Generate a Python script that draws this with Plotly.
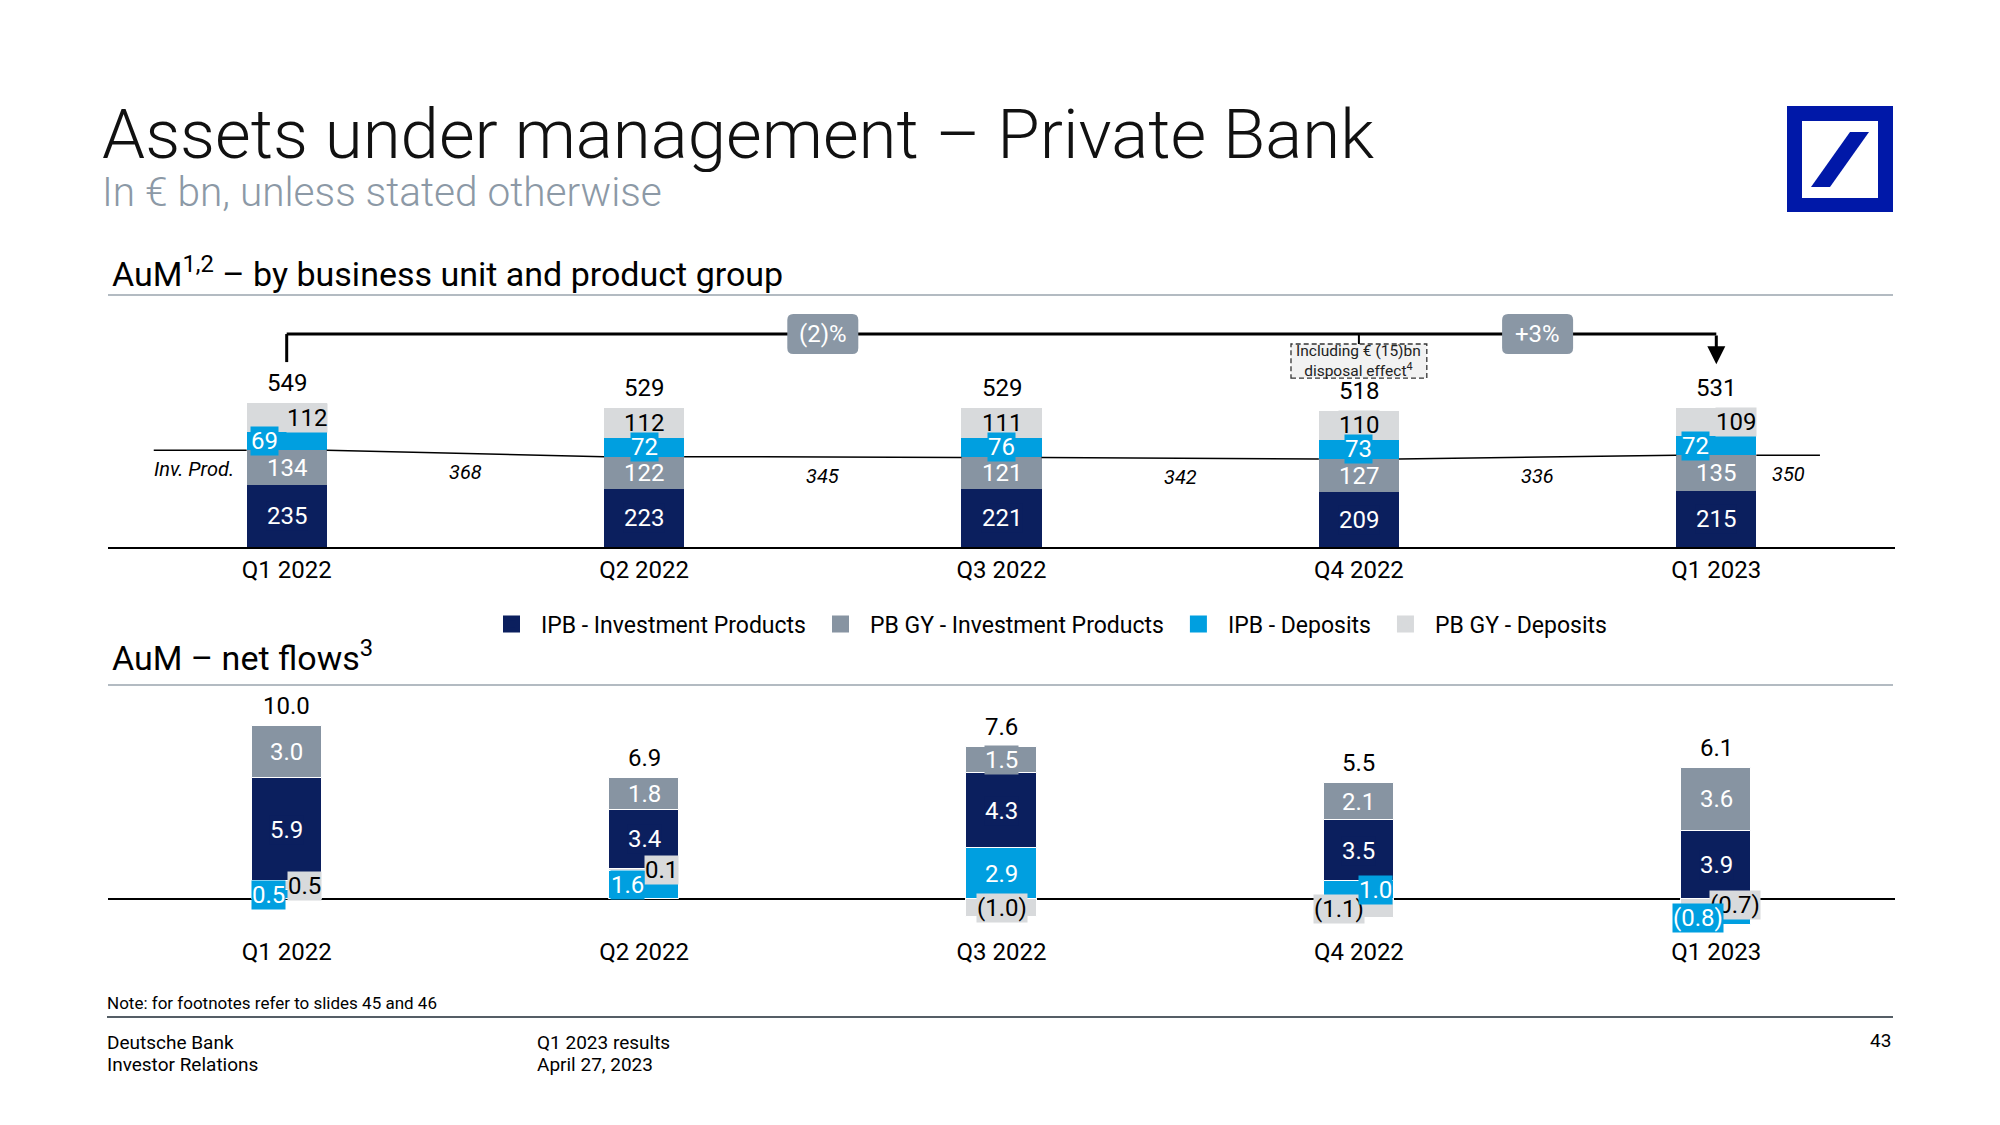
import plotly.graph_objects as go

# ---------------- data ----------------
QUARTERS = ["Q1 2022", "Q2 2022", "Q3 2022", "Q4 2022", "Q1 2023"]
SERIES = ["IPB - Investment Products", "PB GY - Investment Products",
          "IPB - Deposits", "PB GY - Deposits"]

# AuM by business unit and product group (EUR bn)
AUM_IPB_INV = [235, 223, 221, 209, 215]
AUM_PBGY_INV = [134, 122, 121, 127, 135]
AUM_IPB_DEP = [69, 72, 76, 73, 72]
AUM_PBGY_DEP = [112, 112, 111, 110, 109]
AUM_TOTAL = [549, 529, 529, 518, 531]
INV_PROD = [368, 345, 342, 336, 350]
AUM_CHANGE = ["(2)%", "+3%"]

# AuM net flows (EUR bn)
NF_IPB_INV = [5.9, 3.4, 4.3, 3.5, 3.9]
NF_PBGY_INV = [3.0, 1.8, 1.5, 2.1, 3.6]
NF_IPB_DEP = [0.5, 1.6, 2.9, 1.0, -0.8]
NF_PBGY_DEP = [0.5, 0.1, -1.0, -1.1, -0.7]
NF_TOTAL = [10.0, 6.9, 7.6, 5.5, 6.1]

# ---------------- style ----------------
FONT = "Roboto"
NAVY = "#0b1f5e"
GRAY = "#8794a2"
BLUE = "#009fe0"
LIGHT = "#d8dadc"
LOGO = "#0018a8"
BADGE = "#8a97a5"
COLORS = dict(zip(SERIES, [NAVY, GRAY, BLUE, LIGHT]))
TXT = dict(zip(SERIES, ["white", "white", "white", "black"]))

W, H = 2000, 1125
X_DOM = [108 / W, 1895 / W]
X_RANGE = [-0.5, 4.5]
TOP_DOM = [1 - 547 / H, 1 - 300 / H]
TOP_RANGE = [0, 943]
BOT_DOM = [1 - 935 / H, 1 - 690 / H]
BOT_RANGE = [-2.057, 11.94]
TOP_BAR_W = 0.224
BOT_BAR_W = 0.196

TOP_SHIFT = {("IPB - Deposits", 0): -22, ("PB GY - Deposits", 0): 20,
             ("IPB - Deposits", 4): -21, ("PB GY - Deposits", 4): 20}
BOT_SHIFT = {("IPB - Deposits", 0): -18, ("PB GY - Deposits", 0): 18,
             ("IPB - Deposits", 1): -17, ("PB GY - Deposits", 1): 17,
             ("IPB - Deposits", 3): 17, ("PB GY - Deposits", 3): -20,
             ("IPB - Deposits", 4): -18, ("PB GY - Deposits", 4): 19}

X = list(range(len(QUARTERS)))


def fmt(v, dec):
    s = f"{abs(v):.{dec}f}"
    return f"({s})" if v < 0 else s


def stacked_bases(vals, pos_order, neg_order):
    n = len(QUARTERS)
    bases = {k: [0] * n for k in vals}
    tops = [0] * n
    for i in range(n):
        p, q = 0, 0
        for k in pos_order:
            v = vals[k][i]
            if v >= 0:
                bases[k][i] = p
                p += v
        for k in neg_order:
            v = vals[k][i]
            if v < 0:
                bases[k][i] = q
                q += v
        tops[i] = p
    return bases, tops


top_vals = dict(zip(SERIES, [AUM_IPB_INV, AUM_PBGY_INV, AUM_IPB_DEP, AUM_PBGY_DEP]))
bot_vals = dict(zip(SERIES, [NF_IPB_INV, NF_PBGY_INV, NF_IPB_DEP, NF_PBGY_DEP]))
top_bases, top_tops = stacked_bases(top_vals, SERIES, SERIES)
bot_bases, bot_tops = stacked_bases(
    bot_vals, ["IPB - Deposits", "PB GY - Deposits", "IPB - Investment Products",
               "PB GY - Investment Products"],
    ["PB GY - Deposits", "IPB - Deposits"])

fig = go.Figure()
for s in SERIES:
    fig.add_trace(go.Bar(
        x=X, y=top_vals[s], base=top_bases[s], width=TOP_BAR_W, name=s,
        marker=dict(color=COLORS[s], line=dict(width=0)),
        legendgroup=s, showlegend=False, hoverinfo="skip",
        xaxis="x", yaxis="y"))
for s in SERIES:
    fig.add_trace(go.Bar(
        x=X, y=bot_vals[s], base=bot_bases[s], width=BOT_BAR_W, name=s,
        marker=dict(color=COLORS[s], line=dict(width=1, color="white")),
        legendgroup=s, showlegend=False, hoverinfo="skip",
        xaxis="x2", yaxis="y2"))
# legend entries (larger swatches)
for s in SERIES:
    fig.add_trace(go.Bar(
        x=[None], y=[None], name=s,
        marker=dict(color=COLORS[s], line=dict(width=10, color=COLORS[s])),
        legendgroup=s, showlegend=True, hoverinfo="skip",
        xaxis="x", yaxis="y"))

# Investment products line (top of the investment-product stack)
inv_level = [a + b for a, b in zip(AUM_IPB_INV, AUM_PBGY_INV)]
lx, ly = [-0.372, -TOP_BAR_W / 2, None], [inv_level[0], inv_level[0], None]
for i in range(len(X) - 1):
    lx += [i + TOP_BAR_W / 2, i + 1 - TOP_BAR_W / 2, None]
    ly += [inv_level[i], inv_level[i + 1], None]
right_end = len(X) - 1 + 0.29
lx += [len(X) - 1 + TOP_BAR_W / 2, right_end]
ly += [inv_level[-1], inv_level[-1]]
fig.add_trace(go.Scatter(x=lx, y=ly, mode="lines", line=dict(color="black", width=1.5),
                         showlegend=False, hoverinfo="skip", xaxis="x", yaxis="y"))

ann = []
# segment labels
order = ["IPB - Investment Products", "PB GY - Investment Products",
         "PB GY - Deposits", "IPB - Deposits"]
for s in order:
    for i in X:
        v = top_vals[s][i]
        ann.append(dict(x=i, y=top_bases[s][i] + v / 2, xref="x", yref="y",
                        text=fmt(v, 0), showarrow=False,
                        font=dict(size=24, color=TXT[s]), bgcolor=COLORS[s],
                        borderpad=0, xshift=TOP_SHIFT.get((s, i), 0)))
for s in order:
    for i in X:
        v = bot_vals[s][i]
        ann.append(dict(x=i, y=bot_bases[s][i] + v / 2, xref="x2", yref="y2",
                        text=fmt(v, 1), showarrow=False,
                        font=dict(size=24, color=TXT[s]), bgcolor=COLORS[s],
                        borderpad=0, xshift=BOT_SHIFT.get((s, i), 0)))
# totals
for i in X:
    ann.append(dict(x=i, y=top_tops[i], xref="x", yref="y", text=fmt(AUM_TOTAL[i], 0),
                    showarrow=False, yanchor="bottom", yshift=4,
                    font=dict(size=24, color="black")))
    ann.append(dict(x=i, y=bot_tops[i], xref="x2", yref="y2", text=fmt(NF_TOTAL[i], 1),
                    showarrow=False, yanchor="bottom", yshift=4,
                    font=dict(size=24, color="black")))
# investment product labels
for i in X:
    if i < len(X) - 1:
        lxp = i + 0.5
        lyp = (inv_level[i] + inv_level[i + 1]) / 2
    else:
        lxp = (i + TOP_BAR_W / 2 + right_end) / 2
        lyp = inv_level[i]
    ann.append(dict(x=lxp, y=lyp, xref="x", yref="y", text=f"<i>{INV_PROD[i]}</i>",
                    showarrow=False, yshift=-19, font=dict(size=20, color="black")))
ann.append(dict(x=-0.26, y=inv_level[0], xref="x", yref="y", text="<i>Inv. Prod.</i>",
                showarrow=False, yshift=-19, font=dict(size=20, color="black")))

# bracket with change badges
BR_Y, BR_LOW, ARROW_TIP = 813, 706, 698
shapes = [
    dict(type="line", xref="x", yref="y", x0=0, x1=4, y0=BR_Y, y1=BR_Y,
         line=dict(color="black", width=3)),
    dict(type="line", xref="x", yref="y", x0=0, x1=0, y0=BR_Y, y1=BR_LOW,
         line=dict(color="black", width=3)),
    dict(type="line", xref="x", yref="y", x0=3, x1=3, y0=BR_Y, y1=775,
         line=dict(color="black", width=2)),
    dict(type="rect", xref="x", yref="y", x0=3 - 0.19, x1=3 + 0.19, y0=645, y1=775,
         fillcolor="#f2f2f2", line=dict(color="#333333", width=1.3, dash="5px,3px")),
]
ann.append(dict(x=4, y=ARROW_TIP, ax=4, ay=BR_Y, xref="x", yref="y", axref="x", ayref="y",
                text="", showarrow=True, arrowhead=2, arrowsize=1.2, arrowwidth=3,
                arrowcolor="black"))
ann.append(dict(x=3, y=710, xref="x", yref="y",
                text="Including € (15)bn<br>disposal effect<sup>4</sup>",
                showarrow=False, font=dict(size=15.5, color="#222222")))

# rounded badges (71 x 40 px, corner radius 6 px) converted to data units
ppx = (X_DOM[1] - X_DOM[0]) * W / (X_RANGE[1] - X_RANGE[0])
ppy = (TOP_DOM[1] - TOP_DOM[0]) * H / (TOP_RANGE[1] - TOP_RANGE[0])
hw, hh, r = 35.5 / ppx, 20 / ppy, 6
rx, ry = r / ppx, r / ppy
for k, lab in enumerate(AUM_CHANGE):
    cx = 1.5 + 2 * k
    x0, x1, y0, y1 = cx - hw, cx + hw, BR_Y - hh, BR_Y + hh
    path = (f"M {x0 + rx} {y0} L {x1 - rx} {y0} Q {x1} {y0} {x1} {y0 + ry} "
            f"L {x1} {y1 - ry} Q {x1} {y1} {x1 - rx} {y1} L {x0 + rx} {y1} "
            f"Q {x0} {y1} {x0} {y1 - ry} L {x0} {y0 + ry} Q {x0} {y0} {x0 + rx} {y0} Z")
    shapes.append(dict(type="path", xref="x", yref="y", path=path, fillcolor=BADGE,
                       line=dict(width=0)))
    ann.append(dict(x=cx, y=BR_Y, xref="x", yref="y", text=lab, showarrow=False,
                    font=dict(size=24, color="white")))


# titles and text
def ptext(x, y, text, size, color="black", xanchor="left", weight=None, **kw):
    f = dict(size=size, color=color, family=FONT)
    if weight:
        f["weight"] = weight
    ann.append(dict(x=x / W, y=1 - y / H, xref="paper", yref="paper", text=text,
                    showarrow=False, xanchor=xanchor, yanchor="middle", font=f, **kw))


ptext(100, 134, "Assets under management – Private Bank", 69, "#111111", weight=300,
      height=76)
ptext(100, 192, "In € bn, unless stated otherwise", 40.6, "#8c99a6", weight=300,
      height=44)
ptext(110, 272, "AuM<sup>1,2</sup> – by business unit and product group", 34)
ptext(110, 656, "AuM – net flows<sup>3</sup>", 34)
ptext(105, 1003, "Note: for footnotes refer to slides 45 and 46", 17)
ptext(105, 1042, "Deutsche Bank", 19)
ptext(105, 1064, "Investor Relations", 19)
ptext(535, 1042, "Q1 2023 results", 19)
ptext(535, 1064, "April 27, 2023", 19)
ptext(1893, 1040, "43", 19, xanchor="right")


def pl(x0, y0, x1, y1, color, width):
    shapes.append(dict(type="line", xref="paper", yref="paper", x0=x0 / W, x1=x1 / W,
                       y0=1 - y0 / H, y1=1 - y1 / H, line=dict(color=color, width=width)))


pl(108, 295, 1893, 295, "#9aa4ae", 1.5)
pl(108, 685, 1893, 685, "#9aa4ae", 1.5)
pl(107, 1017, 1893, 1017, "#1c2833", 1.5)


# logo
def prect(x0, y0, x1, y1, color):
    shapes.append(dict(type="rect", xref="paper", yref="paper", x0=x0 / W, x1=x1 / W,
                       y0=1 - y1 / H, y1=1 - y0 / H, fillcolor=color, line=dict(width=0)))


prect(1787, 106, 1893, 212, LOGO)
prect(1802, 121, 1878, 198, "white")
px = lambda v: v / W
py = lambda v: 1 - v / H
shapes.append(dict(type="path", xref="paper", yref="paper",
                   path=f"M {px(1811)} {py(187)} L {px(1830)} {py(187)} L {px(1869)} {py(132)} "
                        f"L {px(1850)} {py(132)} Z",
                   fillcolor=LOGO, line=dict(width=0)))

axis_common = dict(showgrid=False, zeroline=False, fixedrange=True)
fig.update_layout(
    width=W, height=H, margin=dict(l=0, r=0, t=0, b=0),
    paper_bgcolor="white", plot_bgcolor="white",
    font=dict(family=FONT, color="black"),
    barmode="overlay", bargap=0,
    xaxis=dict(domain=X_DOM, range=X_RANGE, tickvals=X, ticktext=QUARTERS,
               showline=True, linecolor="black", linewidth=1.5, ticks="",
               tickfont=dict(size=24), anchor="y", **axis_common),
    yaxis=dict(domain=TOP_DOM, range=TOP_RANGE, showticklabels=False, anchor="x",
               **axis_common),
    xaxis2=dict(domain=X_DOM, range=X_RANGE, tickvals=X, ticktext=QUARTERS,
                showline=False, ticks="", tickfont=dict(size=24), anchor="y2",
                **axis_common),
    yaxis2=dict(domain=BOT_DOM, range=BOT_RANGE, showticklabels=False, anchor="x2",
                showgrid=False, zeroline=True, zerolinecolor="black", zerolinewidth=2,
                fixedrange=True),
    legend=dict(orientation="h", x=1047 / W, xanchor="center", y=1 - 624 / H,
                yanchor="middle", font=dict(size=23), traceorder="normal",
                itemwidth=49, bgcolor="rgba(0,0,0,0)"),
    shapes=shapes, annotations=ann,
)

fig.write_html("out.html", config={"displayModeBar": False},
               post_script="document.body.style.margin='0';")
